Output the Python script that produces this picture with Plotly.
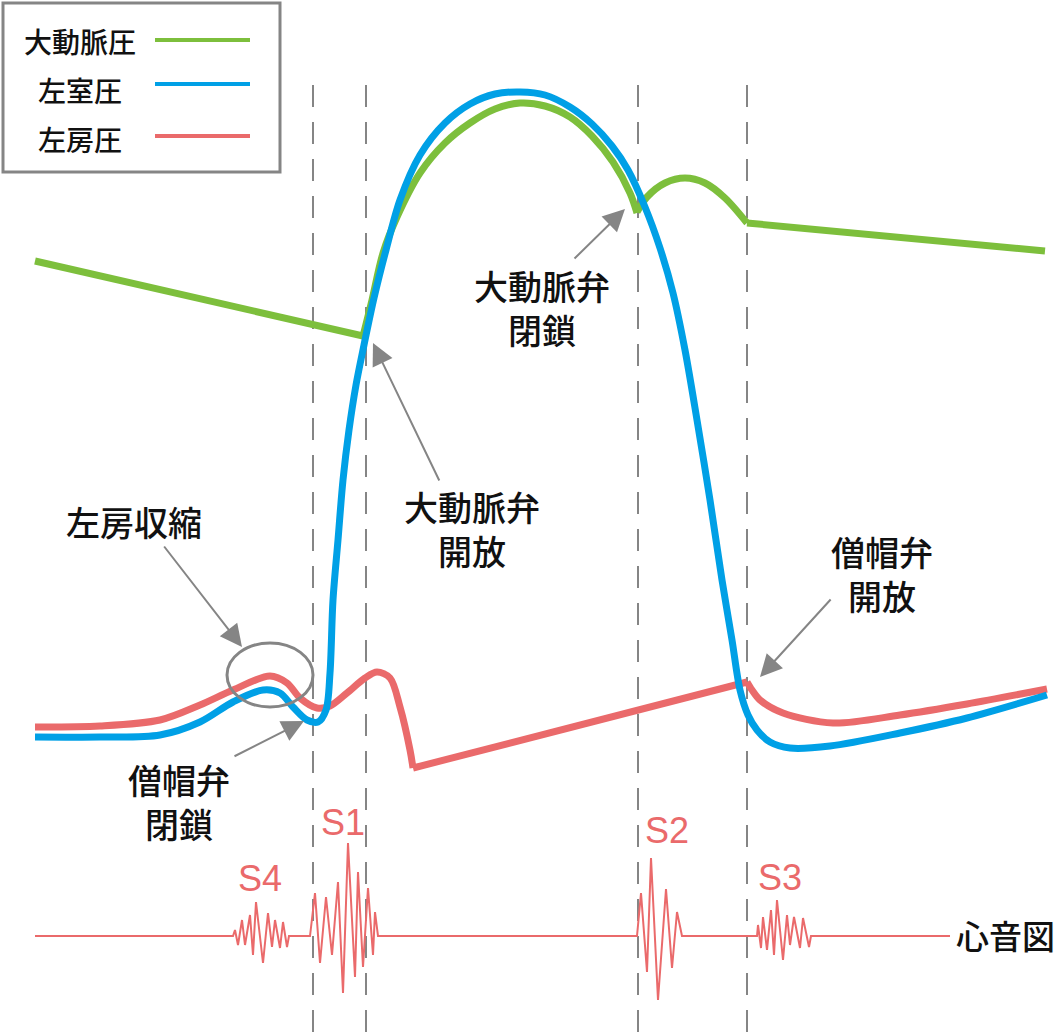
import plotly.graph_objects as go

# ---------------- data (pixel-space coordinates of the schematic) ----------------
aorta_x1 = [35, 363]
aorta_y1 = [261, 336]
aorta_x2 = [363, 372, 383, 397, 420, 445, 470, 495, 520, 545, 570, 592, 613, 630, 637]
aorta_y2 = [336, 300, 253, 217, 173, 143, 123, 109, 103, 106, 117, 136, 162, 193, 213]
aorta_x3 = [637, 647, 665, 685, 705, 725, 747]
aorta_y3 = [212, 197, 183, 178, 183, 198, 223]
aorta_x4 = [747, 1045]
aorta_y4 = [223, 251]

lv_x = [35, 100, 160, 200, 233, 263, 280, 293, 307, 318, 326, 330, 333, 338, 343, 349, 356, 364, 374,
        386, 400, 420, 445, 470, 495, 520, 545, 570, 592, 612, 628, 645, 660, 673, 685, 697, 710, 722,
        732, 740, 748, 757, 770, 790, 830, 900, 967, 1047]
lv_y = [737, 737, 735, 722, 702, 690, 693, 707, 720, 722, 710, 673, 600, 540, 480, 430, 385, 345, 298,
        250, 200, 155, 123, 104, 94, 92, 95, 107, 124, 146, 170, 207, 248, 293, 350, 420, 500, 580,
        640, 690, 715, 730, 742, 748, 746, 733, 718, 695]

la_x1 = [35, 100, 160, 200, 233, 270, 287, 300, 317, 330, 347, 365, 377, 390, 400, 410, 413]
la_y1 = [727, 726, 720, 705, 690, 676, 683, 698, 708, 706, 693, 678, 672, 678, 707, 750, 768]
la_x2 = [413, 747]
la_y2 = [768, 682]
la_x3 = [747, 752, 760, 783, 833, 900, 967, 1047]
la_y3 = [682, 690, 700, 713, 723, 715, 704, 689]

pcg_x = [35, 233, 235, 238, 242, 245, 250, 253, 256, 263, 268, 272, 275, 280, 283, 287, 289,
         310, 315, 320, 326, 332, 338, 343, 348, 355, 358, 363, 368, 373, 375, 378,
         637, 641, 647, 651, 658, 666, 672, 677, 682,
         757, 758, 761, 763, 767, 771, 774, 777, 783, 787, 790, 794, 800, 803, 809, 811, 950]
pcg_y = [936, 936, 930, 945, 920, 945, 915, 955, 902, 963, 913, 947, 920, 948, 922, 947, 936,
         936, 893, 963, 897, 955, 882, 993, 843, 977, 872, 967, 888, 955, 912, 936,
         936, 893, 972, 858, 1000, 889, 968, 912, 936,
         936, 925, 948, 917, 950, 910, 955, 900, 960, 915, 945, 917, 948, 918, 947, 936, 936]

valve_x = [313, 366, 638, 747]
sound_labels = ["S4", "S1", "S2", "S3"]
sound_label_x = [260, 343, 667, 780]
sound_label_y = [878, 822, 830, 877]

legend_names = ["大動脈圧", "左室圧", "左房圧"]

GREEN = "#7dbf3c"
BLUE = "#00a0e6"
RED = "#ea6a6b"
GRAY = "#858585"
JP = "Noto Sans CJK JP"

fig = go.Figure()

def add(x, y, color, width, shape="linear"):
    fig.add_trace(go.Scatter(x=x, y=y, mode="lines",
                             line=dict(color=color, width=width, shape=shape, smoothing=0.9),
                             hoverinfo="skip", showlegend=False))

# heart sound trace
add(pcg_x, pcg_y, RED, 2)
# aortic pressure
add(aorta_x1, aorta_y1, GREEN, 7)
add(aorta_x2, aorta_y2, GREEN, 7, "spline")
add(aorta_x3, aorta_y3, GREEN, 7, "spline")
add(aorta_x4, aorta_y4, GREEN, 7)
# left atrial pressure
add(la_x1, la_y1, RED, 7, "spline")
add(la_x2, la_y2, RED, 7)
add(la_x3, la_y3, RED, 7, "spline")
# left ventricular pressure
add(lv_x, lv_y, BLUE, 7, "spline")

shapes = []
for vx in valve_x:
    shapes.append(dict(type="line", xref="x", yref="y", x0=vx, x1=vx, y0=85, y1=1033,
                       line=dict(color=GRAY, width=2, dash="22px,15px"), layer="below"))
# ellipse around atrial kick
shapes.append(dict(type="circle", xref="x", yref="y", x0=227, x1=313, y0=643, y1=707,
                   line=dict(color=GRAY, width=3)))
# legend box
shapes.append(dict(type="rect", xref="x", yref="y", x0=3, x1=280, y0=3, y1=172,
                   line=dict(color=GRAY, width=3), fillcolor="rgba(0,0,0,0)"))
legend_line_y = [40, 84, 136]
legend_text_y = [41, 90, 139]
legend_colors = [GREEN, BLUE, RED]
for ly, c in zip(legend_line_y, legend_colors):
    shapes.append(dict(type="line", xref="x", yref="y", x0=155, x1=250, y0=ly, y1=ly,
                       line=dict(color=c, width=4)))

annotations = []
for name, ty in zip(legend_names, legend_text_y):
    annotations.append(dict(x=80, y=ty, xref="x", yref="y", text=name, showarrow=False,
                            font=dict(family=JP, size=28, color="#111111", weight=500),
                            xanchor="center", yanchor="middle"))

for lab, lx, ly in zip(sound_labels, sound_label_x, sound_label_y):
    annotations.append(dict(x=lx, y=ly, xref="x", yref="y", text=lab, showarrow=False,
                            font=dict(family="Liberation Sans", size=36, color=RED),
                            xanchor="center", yanchor="middle"))

annotations.append(dict(x=1005, y=935, xref="x", yref="y", text="心音図", showarrow=False,
                        font=dict(family=JP, size=33, color="#111111", weight=500),
                        xanchor="center", yanchor="middle"))

# labels
labels = [
    ("左房収縮", 134, 521),
    ("僧帽弁<br>閉鎖", 179, 801),
    ("大動脈弁<br>開放", 472, 528),
    ("大動脈弁<br>閉鎖", 542, 307),
    ("僧帽弁<br>開放", 882, 573),
]
for t, lx, ly in labels:
    annotations.append(dict(x=lx, y=ly, xref="x", yref="y", text=t, showarrow=False,
                            font=dict(family=JP, size=34, color="#111111", weight=500),
                            xanchor="center", yanchor="middle", align="center"))

# arrows: (tail x, tail y, tip x, tip y)
arrows = [
    (163, 545, 242, 647),
    (233, 757, 304, 721),
    (440, 482, 373, 343),
    (573, 260, 625, 209),
    (832, 598, 760, 677),
]
for tx, ty, hx, hy in arrows:
    annotations.append(dict(x=hx, y=hy, ax=tx, ay=ty, xref="x", yref="y", axref="x", ayref="y",
                            text="", showarrow=True, arrowhead=2, arrowsize=2.2, arrowwidth=2,
                            arrowcolor=GRAY))

fig.update_layout(
    width=1060, height=1033,
    margin=dict(l=0, r=0, t=0, b=0),
    paper_bgcolor="white", plot_bgcolor="white",
    xaxis=dict(range=[0, 1060], visible=False, fixedrange=True),
    yaxis=dict(range=[1033, 0], visible=False, fixedrange=True),
    shapes=shapes, annotations=annotations, showlegend=False,
)

fig.write_html("out.html")
